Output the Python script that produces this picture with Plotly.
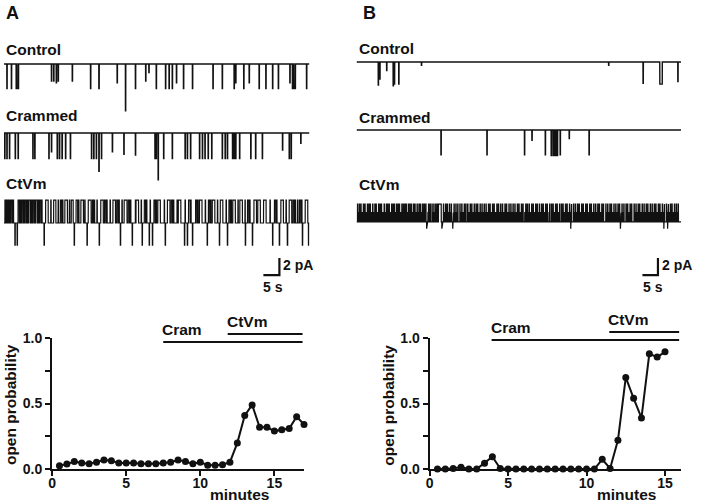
import numpy as np
import plotly.graph_objects as go

W, H = 720, 503
FONT = "Liberation Sans, Arial, Helvetica, sans-serif"
INK = "#111111"

# ---------------- open probability data ----------------
minutes_a = [0.5, 1.0, 1.5, 2.0, 2.5, 3.0, 3.5, 4.0, 4.5, 5.0, 5.5, 6.0, 6.5, 7.0, 7.5, 8.0, 8.5,
             9.0, 9.5, 10.0, 10.5, 11.0, 11.5, 12.0, 12.5, 13.0, 13.5, 14.0, 14.5, 15.0, 15.5, 16.0, 16.5, 17.0]
popen_a = [0.025, 0.038, 0.058, 0.046, 0.040, 0.053, 0.070, 0.064, 0.046, 0.046, 0.046, 0.040, 0.040, 0.040,
           0.046, 0.053, 0.070, 0.058, 0.040, 0.053, 0.030, 0.030, 0.033, 0.053, 0.200, 0.410, 0.490, 0.320,
           0.320, 0.290, 0.300, 0.310, 0.400, 0.340]
minutes_b = [0.5, 1.0, 1.5, 2.0, 2.5, 3.0, 3.5, 4.0, 4.5, 5.0, 5.5, 6.0, 6.5, 7.0, 7.5, 8.0, 8.5,
             9.0, 9.5, 10.0, 10.5, 11.0, 11.5, 12.0, 12.5, 13.0, 13.5, 14.0, 14.5, 15.0]
popen_b = [0.0, 0.0, 0.005, 0.015, 0.0, 0.0, 0.045, 0.095, 0.005, 0.0, 0.0, 0.0, 0.0, 0.0, 0.0, 0.0, 0.0,
           0.0, 0.0, 0.0, 0.0, 0.075, 0.005, 0.220, 0.700, 0.540, 0.390, 0.880, 0.855, 0.895]
cram_a = [7.5, 16.9]
ctvm_a = [11.85, 16.9]
cram_b = [3.95, 15.9]
ctvm_b = [11.45, 15.9]
xticks = [0, 5, 10, 15]
yticks = [0.0, 0.5, 1.0]
yticklabels = ["0.0", "0.5", "1.0"]
yminor = [0.25, 0.75]

# ---------------- single-channel trace data (time in s, current in pA) ----------------
ctrl_a_t = [0.9, 2.3, 3.8, 4.1, 14.8, 15.5, 16.3, 16.9, 21.3, 27.0, 29.6, 35.3, 37.9, 41.0, 44.2, 45.2,
            47.5, 50.4, 51.5, 52.5, 53.8, 56.0, 58.8, 65.2, 68.1, 71.8, 72.3, 74.8, 76.5, 79.6, 81.7,
            83.8, 85.6, 89.2, 90.0, 90.5, 94.4]
ctrl_a_amp = [2.9, 2.9, 2.9, 2.9, 2.0, 2.0, 2.2, 2.0, 2.0, 2.9, 2.9, 2.2, 5.5, 2.9, 2.0, 1.0,
              2.9, 2.9, 2.9, 2.9, 2.2, 2.9, 2.9, 2.9, 2.9, 2.9, 2.2, 2.9, 2.2, 2.9, 2.9,
              2.9, 2.9, 2.2, 2.9, 2.9, 2.9]
ctrl_a_dur = [0.1, 0.1, 0.1, 0.45, 0.1, 0.1, 0.1, 0.1, 0.1, 0.1, 0.1, 0.1, 0.1, 0.1, 0.1, 0.1,
              0.1, 0.1, 0.1, 0.1, 0.1, 0.1, 0.1, 0.1, 0.1, 0.1, 0.1, 0.1, 0.1, 0.1, 0.1,
              0.1, 0.1, 0.1, 0.1, 0.45, 0.1]

cram_a_t = [0.2, 0.9, 1.7, 3.5, 4.4, 9.0, 9.6, 14.0, 14.8, 16.6, 17.3, 18.1, 19.2, 20.7, 27.3, 28.0,
            28.8, 29.6, 30.4, 33.8, 37.4, 41.0, 47.1, 47.5, 48.1, 49.8, 52.5, 56.5, 57.2, 58.2, 61.0,
            61.9, 62.7, 63.7, 64.8, 68.1, 69.0, 69.7, 71.3, 71.8, 72.3, 73.5, 77.0, 78.5, 80.6, 86.9,
            89.0, 89.6, 92.6]
cram_a_amp = [3.0, 3.0, 3.0, 3.0, 3.0, 3.0, 3.0, 3.0, 2.2, 3.0, 3.0, 3.0, 3.0, 3.0, 3.0, 3.0,
              3.0, 4.5, 3.0, 2.2, 2.5, 2.6, 3.0, 3.0, 5.5, 3.0, 3.0, 3.0, 3.0, 3.0, 3.0,
              3.0, 3.0, 3.0, 3.0, 3.0, 3.0, 3.0, 3.0, 3.0, 3.0, 3.0, 3.0, 3.0, 3.0, 2.0,
              3.0, 3.0, 1.2]

# CtVm (A): open periods at the unitary level, brief openings, brief closures, double openings
ctvm_a_open = [(0.0, 0.3), (1.0, 1.3), (1.9, 2.2), (3.0, 4.4), (5.2, 5.5), (6.3, 6.6), (7.4, 7.7),
               (8.6, 8.9), (9.6, 9.9), (10.8, 11.1), (11.9, 13.0), (13.8, 15.5), (16.2, 17.6),
               (18.4, 19.0), (19.8, 21.0), (21.6, 22.5), (23.4, 24.0), (24.8, 26.3), (27.2, 27.6),
               (28.3, 30.2), (31.0, 31.4), (32.2, 34.0), (34.8, 35.2), (36.0, 37.5), (38.4, 38.8),
               (39.6, 41.2), (42.0, 43.8), (44.6, 46.8), (47.6, 48.0), (48.8, 51.0), (51.8, 52.2),
               (53.0, 54.4), (55.2, 57.6), (58.4, 59.8), (60.6, 61.0), (61.8, 63.8), (64.6, 65.0),
               (65.8, 67.5), (68.3, 70.2), (71.0, 71.4), (72.2, 73.6), (74.4, 76.0), (76.8, 78.0),
               (78.8, 79.2), (80.0, 81.0), (81.8, 84.4), (85.2, 86.4), (87.2, 89.0), (89.8, 90.2),
               (91.0, 92.2), (93.0, 94.0), (94.8, 95.6)]
ctvm_a_brief_open = [0.6, 1.6, 2.6, 4.8, 5.9, 7.0, 8.2, 9.3, 10.4, 11.5, 18.0, 23.0, 27.9, 31.8,
                     35.6, 39.2, 44.2, 47.2, 52.6, 58.1, 60.2, 64.2, 70.6, 76.4, 80.4, 84.8, 90.6, 92.6]
ctvm_a_brief_close = [14.6, 16.9, 20.4, 25.2, 29.0, 33.1, 36.8, 41.0, 42.8, 45.6, 50.0, 54.0, 56.5,
                      62.8, 66.6, 69.3, 73.0, 75.2, 83.0, 88.0, 91.6]
ctvm_a_double = [3.4, 4.1, 12.5, 21.9, 25.9, 29.7, 36.3, 40.0, 43.1, 45.3, 46.3, 50.3, 56.3, 57.2,
                 58.8, 63.4, 67.2, 69.7, 75.3, 77.5, 83.8, 85.9, 88.4, 93.1, 95.0]
unit_a = 2.7
double_a = 5.3

ctrl_b_t = [7.0, 7.5, 9.7, 11.8, 12.2, 13.6, 20.9, 81.2, 92.3, 97.7, 98.1, 103.5]
ctrl_b_amp = [2.7, 2.0, 1.0, 2.8, 2.6, 2.6, 0.4, 0.4, 2.5, 2.6, 2.6, 2.3]
ctrl_b_dur = [0.1, 0.1, 0.1, 0.1, 0.1, 0.1, 0.1, 0.1, 0.1, 0.4, 0.4, 0.1]

cram_b_t = [27.2, 42.0, 54.1, 56.5, 60.8, 62.7, 63.5, 64.0, 64.5, 65.6, 68.5, 74.9]
cram_b_amp = [2.9, 2.9, 2.9, 1.2, 2.9, 3.0, 3.0, 3.0, 3.0, 2.9, 1.0, 2.9]
cram_b_dur = [0.1, 0.1, 0.1, 0.1, 0.1, 0.3, 0.3, 0.3, 0.3, 0.1, 0.1, 0.1]

# CtVm (B): channel mostly open, full brief closures and partial (filtered) closures
ctvm_b_close = [0.3, 0.9, 1.4, 2.2, 2.7, 3.5, 4.0, 4.4, 5.2, 5.9, 6.3, 7.1, 7.6, 8.0, 8.9, 9.6, 10.0,
                10.5, 11.3, 11.8, 12.2, 12.9, 13.4, 13.8, 14.6, 15.1, 15.6, 16.0, 16.7, 17.2, 17.7,
                18.4, 18.8, 19.5, 20.1, 20.6, 21.3, 21.8, 22.3, 23.2, 23.7, 24.3, 24.9, 25.5, 26.0,
                28.0, 28.7, 29.2, 29.9, 30.5, 31.4, 32.0, 32.6, 33.3, 33.9, 34.7, 35.2, 35.8, 36.6,
                37.1, 37.9, 38.5, 39.0, 39.8, 40.4, 41.1, 41.7, 42.5, 43.0, 43.8, 44.3, 45.2, 45.7,
                46.4, 47.0, 47.8, 48.3, 49.1, 49.7, 50.4, 51.0, 51.8, 52.3, 53.1, 53.6, 54.5, 55.0,
                55.6, 56.4, 56.9, 57.7, 58.2, 58.9, 59.6, 60.1, 60.9, 61.4, 62.2, 62.8, 63.3, 64.1,
                64.6, 65.4, 66.0, 66.5, 67.3, 67.8, 68.6, 69.2, 69.9, 70.5, 71.2, 71.7, 72.5, 73.0,
                73.8, 74.3, 75.1, 75.6, 76.4, 77.0, 77.7, 78.2, 79.0, 79.5, 80.3, 80.9, 81.6, 82.1,
                82.9, 83.5, 84.2, 84.7, 85.5, 86.1, 86.8, 87.3, 88.1, 88.6, 89.4, 90.0, 90.7, 91.2,
                92.0, 92.6, 93.3, 93.8, 94.6, 95.2, 95.9, 96.4, 97.2, 97.7, 98.5, 99.1, 99.8, 100.4,
                101.1, 101.6, 102.4, 103.0, 103.6]
ctvm_b_partial = [0.6, 1.1, 1.8, 2.5, 3.2, 3.8, 4.8, 5.5, 6.7, 7.3, 8.4, 9.2, 10.3, 11.0, 12.6, 13.1,
                  14.2, 14.9, 15.9, 16.4, 17.5, 18.1, 19.2, 19.8, 20.9, 21.5, 22.0, 23.0, 23.5, 24.6,
                  25.2, 25.8, 28.4, 29.5, 30.2, 31.1, 31.7, 32.3, 33.6, 34.3, 35.0, 36.2, 36.9, 37.6,
                  38.2, 39.4, 40.1, 40.8, 41.4, 42.2, 43.4, 44.0, 44.8, 45.5, 46.1, 46.8, 47.5, 48.7,
                  49.4, 50.1, 50.7, 51.5, 52.7, 53.4, 54.2, 55.3, 56.1, 57.3, 58.5, 59.3, 60.5, 61.1,
                  62.0, 63.6, 64.3, 65.1, 66.3, 67.0, 68.2, 68.9, 70.2, 71.0, 72.2, 73.4, 74.0, 74.8,
                  76.1, 76.7, 77.4, 78.6, 79.3, 80.6, 81.3, 82.5, 83.2, 83.9, 85.2, 85.8, 87.0, 87.8,
                  88.4, 89.7, 90.4, 91.5, 92.3, 93.0, 94.2, 94.9, 95.6, 96.8, 97.5, 98.2, 98.8, 100.1,
                  100.7, 101.4, 102.1, 102.7, 103.3]
ctvm_b_long_close = [(26.4, 27.3)]
ctvm_b_extra = [22.6, 27.5, 31.0, 69.0, 85.0, 99.0, 100.2]
unit_b = 2.1
partial_b = 1.1

scale_t = 5   # s
scale_i = 2   # pA

# ---------------- layout constants (pixels of the reference picture) ----------------
PX_PER_PA = 8.5
A_X0, A_X1, A_PXS = 5, 310, 3.2
B_X0, B_X1, B_PXS = 357, 681, 3.1
# screenshot calibration (measured): shown = scale * page + offset
SX, OX = 0.993, 5.0
SY, OY = 0.968, 8.0


def fx(px):
    return min(1.0, max(0.0, (px - OX) / SX / W))


def fy(py):
    return min(1.0, max(0.0, 1 - (py - OY) / SY / H))


def pulses(t_end, events, dt=0.02):
    t = np.arange(0.0, t_end + dt, dt)
    y = np.zeros_like(t)
    for t0, t1, lev in events:
        y[(t >= t0) & (t < t1)] = lev
    return t, y


fig = go.Figure()
TICKFONT = dict(family=FONT, size=14, color=INK, weight="bold")

# ---- open probability plots ----
for sfx, mx, py, xr, dom in [("", minutes_a, popen_a, 17, (53, 53 + 17 * 14.8)),
                              ("2", minutes_b, popen_b, 16, (430, 430 + 16 * 15.67))]:
    fig.add_trace(go.Scatter(x=mx, y=py, mode="lines+markers", xaxis="x" + sfx, yaxis="y" + sfx,
                             line=dict(color=INK, width=2), marker=dict(color=INK, size=7),
                             cliponaxis=False, hoverinfo="skip"))
    fig.layout["xaxis" + sfx] = dict(domain=[fx(dom[0]), fx(dom[1])], range=[0, xr], anchor="y" + sfx,
                                     tickvals=xticks, ticks="outside", ticklen=5, tickwidth=1.5,
                                     tickcolor=INK, showline=True, linewidth=2, linecolor=INK,
                                     showgrid=False, zeroline=False, tickfont=TICKFONT,
                                     ticklabelstandoff=-5)
    fig.layout["yaxis" + sfx] = dict(domain=[fy(469), fy(338)], range=[0, 1], anchor="x" + sfx,
                                     tickvals=yticks, ticktext=yticklabels, ticks="outside", ticklen=5,
                                     tickwidth=1.5, tickcolor=INK, showline=True, linewidth=2,
                                     linecolor=INK, showgrid=False, zeroline=False,
                                     minor=dict(tickvals=yminor, ticks="outside", ticklen=5,
                                                tickwidth=1.5, tickcolor=INK),
                                     tickfont=TICKFONT)

# ---- treatment bars ----
shapes = []
annots = []
for sfx, cram, ctvm, ycram, yctvm in [("", cram_a, ctvm_a, 342, 334), ("2", cram_b, ctvm_b, 340, 332)]:
    for seg, ypx, lab in [(cram, ycram, "Cram"), (ctvm, yctvm, "CtVm")]:
        shapes.append(dict(type="line", xref="x" + sfx, yref="paper", x0=seg[0], x1=seg[1],
                           y0=fy(ypx), y1=fy(ypx), line=dict(color=INK, width=2)))
        annots.append(dict(xref="x" + sfx, yref="paper", x=seg[0], y=fy(ypx - 2), text="<b>%s</b>" % lab,
                           showarrow=False, xanchor="left", yanchor="bottom", xshift=-3,
                           font=dict(family=FONT, size=15.5, color=INK)))

# ---- single-channel traces ----
trace_specs = []
ev = [(t, t + d, -a) for t, a, d in zip(ctrl_a_t, ctrl_a_amp, ctrl_a_dur)]
trace_specs.append(("a1", A_X0, A_X1, A_PXS, 52, 118, 64, ev, 1.4))
ev = [(t, t + 0.1, -a) for t, a in zip(cram_a_t, cram_a_amp)]
trace_specs.append(("a2", A_X0, A_X1, A_PXS, 122, 186, 133, ev, 1.4))
ev = [(t0, t1, -unit_a) for t0, t1 in ctvm_a_open]
ev += [(t, t + 0.12, -unit_a) for t in ctvm_a_brief_open]
ev += [(t, t + 0.12, 0.0) for t in ctvm_a_brief_close]
ev += [(t, t + 0.12, -double_a) for t in ctvm_a_double]
trace_specs.append(("a3", A_X0, A_X1, A_PXS, 190, 282, 200, ev, 1.2))
ev = [(t, t + d, -a) for t, a, d in zip(ctrl_b_t, ctrl_b_amp, ctrl_b_dur)]
trace_specs.append(("b1", B_X0, B_X1, B_PXS, 52, 110, 62, ev, 1.4))
ev = [(t, t + d, -a) for t, a, d in zip(cram_b_t, cram_b_amp, cram_b_dur)]
trace_specs.append(("b2", B_X0, B_X1, B_PXS, 120, 172, 130, ev, 1.4))
ev = [(0.0, 200.0, -unit_b)]
ev += [(t, t + 0.1, 0.0) for t in ctvm_b_close]
ev += [(t, t + 0.1, -unit_b + partial_b) for t in ctvm_b_partial]
ev += [(t0, t1, 0.0) for t0, t1 in ctvm_b_long_close]
ev += [(t, t + 0.06, -unit_b - 0.8) for t in ctvm_b_extra]
trace_specs.append(("b3", B_X0, B_X1, B_PXS, 193, 282, 204, ev, 1.25))

axn = 3
for name, x0, x1, pxs, top, bot, base, events, lw in trace_specs:
    t_end = (x1 - x0) / pxs
    t, y = pulses(t_end, events)
    xa, ya = "x%d" % axn, "y%d" % axn
    fig.add_trace(go.Scatter(x=t, y=y, mode="lines", xaxis=xa, yaxis=ya,
                             line=dict(color=INK, width=lw), hoverinfo="skip"))
    fig.layout["xaxis%d" % axn] = dict(domain=[fx(x0), fx(x1)], range=[0, t_end], visible=False,
                                       anchor=ya, fixedrange=True)
    fig.layout["yaxis%d" % axn] = dict(domain=[fy(bot), fy(top)],
                                       range=[-(bot - base) / PX_PER_PA, (base - top) / PX_PER_PA],
                                       visible=False, anchor=xa, fixedrange=True)
    if name in ("a3", "b3"):
        corner_px_x = 280 if name == "a3" else 658
        corner_t = (corner_px_x - x0) / pxs
        corner_i = -(275 - base) / PX_PER_PA
        fig.add_trace(go.Scatter(x=[corner_t - scale_t, corner_t, corner_t],
                                 y=[corner_i, corner_i, corner_i + scale_i], mode="lines",
                                 xaxis=xa, yaxis=ya, line=dict(color=INK, width=2.2),
                                 hoverinfo="skip", cliponaxis=False))
    axn += 1


# ---- texts ----
def txt(x, y, s, size=15.5, xanchor="left", angle=0):
    annots.append(dict(xref="paper", yref="paper", x=fx(x), y=fy(y), text="<b>%s</b>" % s,
                       showarrow=False, xanchor=xanchor, yanchor="middle", textangle=angle,
                       font=dict(family=FONT, size=size, color=INK)))


txt(2, 13, "A", 18)
txt(361, 13, "B", 18)
txt(2, 49, "Control")
txt(2, 115, "Crammed")
txt(2, 183, "CtVm")
txt(357, 48, "Control")
txt(357, 117, "Crammed")
txt(357, 184, "CtVm")
txt(282, 265, "2 pA", 14)
txt(262, 287, "5 s", 14)
txt(660, 265, "2 pA", 14)
txt(641, 287, "5 s", 14)
txt(11, 405, "open probability", 15.5, "center", -90)
txt(389, 405, "open probability", 15.5, "center", -90)
txt(240, 494, "minutes", 15.5, "center")
txt(627, 494, "minutes", 15.5, "center")

fig.update_layout(width=W, height=H, margin=dict(l=0, r=0, t=0, b=0), showlegend=False,
                  plot_bgcolor="white", paper_bgcolor="white", shapes=shapes, annotations=annots)

fig.write_html("out.html", config={"displayModeBar": False},
               post_script="document.body.style.margin='0';document.body.style.padding='0';")
